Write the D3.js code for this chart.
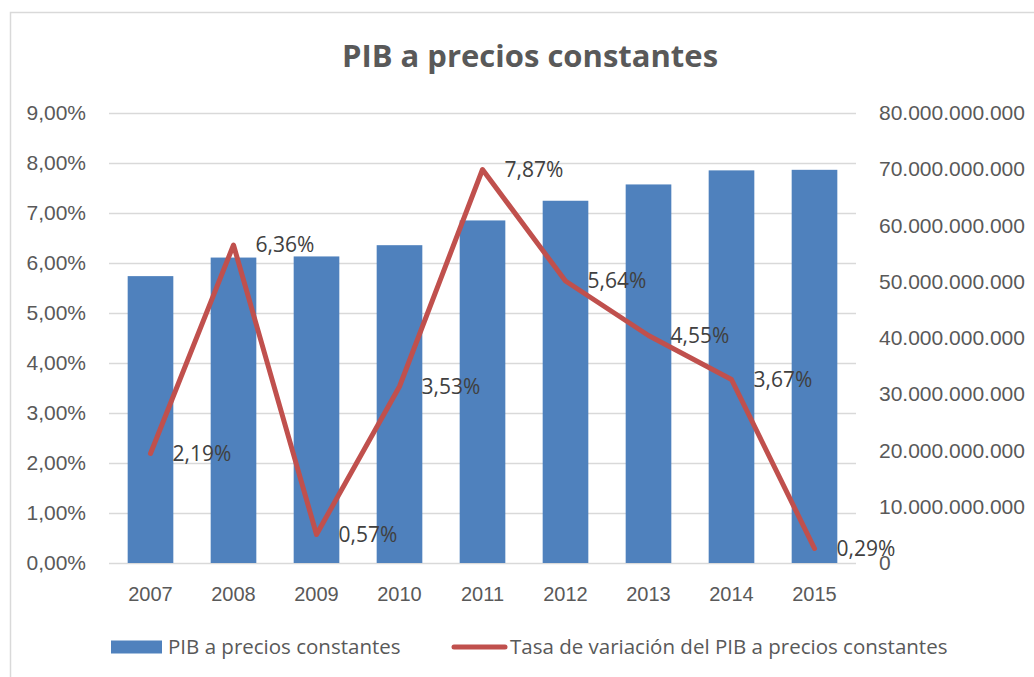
<!DOCTYPE html>
<html>
<head>
<meta charset="utf-8">
<script src="https://cdn.jsdelivr.net/npm/d3@7"></script>
<style>
  body { margin: 0; background: #fff; }
  svg { font-family: "Open Sans", sans-serif; }
  .axis text { fill: #595959; font-size: 21px; }
  .axis--x text { font-size: 20px; }
  .axis .domain { display: none; }
  .axis--y line { stroke: #d9d9d9; stroke-width: 1.3; }
  .axis--y2 line { display: none; }
  .axis--x line { display: none; }
  .label { fill: #404040; font-size: 21px; }
  .legend text { fill: #595959; font-size: 20.5px; }
</style>
</head>
<body>
<div id="chart"></div>
<script>
var years = ["2007", "2008", "2009", "2010", "2011", "2012", "2013", "2014", "2015"];
var pib = [51.0e9, 54.3e9, 54.5e9, 56.5e9, 60.9e9, 64.4e9, 67.3e9, 69.8e9, 69.9e9];
var tasa = [0.0219, 0.0636, 0.0057, 0.0353, 0.0787, 0.0564, 0.0455, 0.0367, 0.0029];
var leftTicks = [0, 0.01, 0.02, 0.03, 0.04, 0.05, 0.06, 0.07, 0.08, 0.09];
var rightTicks = [0, 10e9, 20e9, 30e9, 40e9, 50e9, 60e9, 70e9, 80e9];

var title = "PIB a precios constantes";
var legendBar = "PIB a precios constantes";
var legendLine = "Tasa de variación del PIB a precios constantes";

var W = 1034, H = 677;
var margin = {top: 113, right: 178, bottom: 114, left: 109}
    , width = W - margin.left - margin.right
    , height = H - margin.top - margin.bottom;

var es = d3.formatLocale({decimal: ",", thousands: ".", grouping: [3], currency: ["", "€"]});
var pct = es.format(".2%")
    , big = es.format(",.0f");

var svg = d3.select("#chart").append("svg")
    .attr("width", W)
    .attr("height", H);

// chart border
svg.append("path")
    .attr("d", "M10.5," + H + "V12.5H" + W)
    .attr("fill", "none")
    .attr("stroke", "#d9d9d9")
    .attr("stroke-width", 1.5);

svg.append("text")
    .attr("x", 530)
    .attr("y", 67)
    .attr("text-anchor", "middle")
    .attr("font-size", "31px")
    .attr("font-weight", "bold")
    .attr("fill", "#595959")
    .text(title);

var g = svg.append("g").attr("transform", "translate(" + margin.left + "," + margin.top + ")");

var x = d3.scaleBand()
    .domain(years)
    .range([0, width])
    .paddingInner(0.45)
    .paddingOuter(0.225);

var xc = d3.scalePoint()
    .domain(years)
    .range([0, width])
    .padding(0.5);

var yL = d3.scaleLinear().domain([0, 0.09]).range([height, 0]);
var yR = d3.scaleLinear().domain([0, 80e9]).range([height, 0]);

g.append("g")
    .attr("class", "axis axis--y")
    .call(d3.axisLeft(yL)
        .tickValues(leftTicks)
        .tickFormat(pct)
        .tickSizeInner(-width)
        .tickSizeOuter(0)
        .tickPadding(23));

g.append("g")
    .attr("class", "axis axis--y2")
    .attr("transform", "translate(" + width + ",0)")
    .call(d3.axisRight(yR)
        .tickValues(rightTicks)
        .tickFormat(big)
        .tickSize(0)
        .tickPadding(23));

g.append("g")
    .attr("class", "axis axis--x")
    .attr("transform", "translate(0," + height + ")")
    .call(d3.axisBottom(x).tickSize(0).tickPadding(24));

g.append("g")
    .selectAll("rect")
    .data(pib)
    .enter()
    .append("rect")
    .attr("x", (d, i) => x(years[i]))
    .attr("y", d => yR(d))
    .attr("width", x.bandwidth())
    .attr("height", d => height - yR(d))
    .attr("fill", "#4f81bd");

var line = d3.line()
    .x((d, i) => xc(years[i]))
    .y(d => yL(d));

g.append("path")
    .attr("d", line(tasa))
    .attr("fill", "none")
    .attr("stroke", "#c0504d")
    .attr("stroke-width", 5)
    .attr("stroke-linejoin", "round")
    .attr("stroke-linecap", "round");

g.append("g")
    .selectAll("text")
    .data(tasa)
    .enter()
    .append("text")
    .attr("class", "label")
    .attr("x", (d, i) => xc(years[i]) + 22)
    .attr("y", d => yL(d))
    .attr("dy", "0.35em")
    .text(d => pct(d));

// legend
var lg = svg.append("g").attr("class", "legend").attr("transform", "translate(0,647)");
lg.append("rect")
    .attr("x", 111).attr("y", -6.5)
    .attr("width", 51).attr("height", 13)
    .attr("fill", "#4f81bd");
lg.append("text")
    .attr("x", 168).attr("dy", "0.35em")
    .text(legendBar);
lg.append("line")
    .attr("x1", 454).attr("x2", 505)
    .attr("stroke", "#c0504d")
    .attr("stroke-width", 5)
    .attr("stroke-linecap", "round");
lg.append("text")
    .attr("x", 510).attr("dy", "0.35em")
    .text(legendLine);
</script>
</body>
</html>
